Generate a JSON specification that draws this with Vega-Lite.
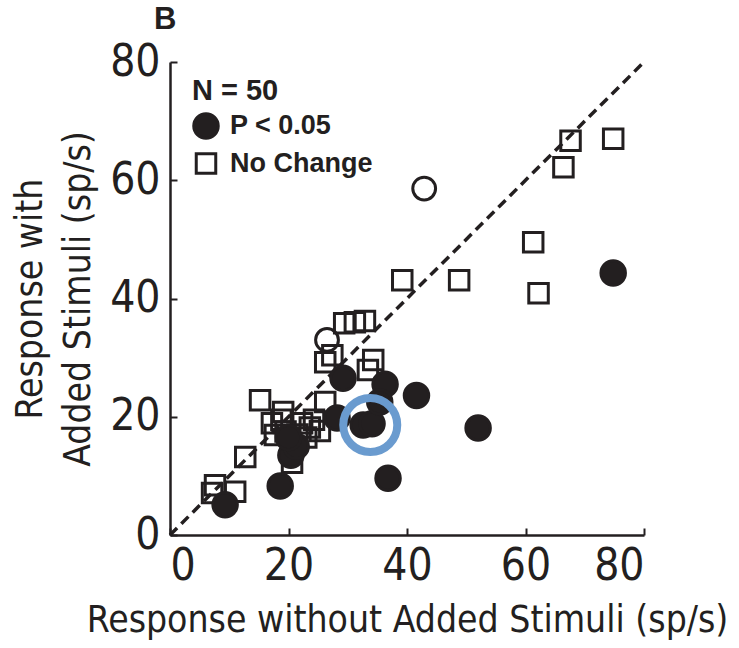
{
  "$schema": "https://vega.github.io/schema/vega-lite/v6.json",
  "width": 474,
  "height": 473,
  "autosize": "none",
  "padding": {"left": 170, "top": 62, "right": 95, "bottom": 113},
  "background": "white",
  "config": {
    "view": {"stroke": null},
    "font": "Liberation Sans",
    "axis": {
      "grid": false,
      "domainColor": "#231f20",
      "domainWidth": 2.5,
      "tickColor": "#231f20",
      "tickWidth": 2,
      "tickSize": -7,
      "labelFont": "DejaVu Sans Condensed, Liberation Sans",
      "labelFontSize": 44,
      "labelColor": "#231f20",
      "titleFont": "DejaVu Sans Condensed, Liberation Sans",
      "titleFontSize": 37,
      "titleFontWeight": "normal",
      "titleColor": "#231f20"
    }
  },
  "title": {
    "text": "B",
    "anchor": "start",
    "frame": "group",
    "font": "Liberation Sans",
    "fontSize": 31,
    "fontWeight": "bold",
    "color": "#231f20",
    "dx": -16,
    "offset": 4
  },
  "datasets": {
    "cells": [
      {"x": 67.6, "y": 66.7, "type": "No Change"},
      {"x": 74.8, "y": 67.0, "type": "No Change"},
      {"x": 66.4, "y": 62.2, "type": "No Change"},
      {"x": 61.3, "y": 49.5, "type": "No Change"},
      {"x": 62.2, "y": 40.9, "type": "No Change"},
      {"x": 39.2, "y": 43.1, "type": "No Change"},
      {"x": 48.8, "y": 43.1, "type": "No Change"},
      {"x": 29.4, "y": 35.8, "type": "No Change"},
      {"x": 31.2, "y": 36.0, "type": "No Change"},
      {"x": 32.9, "y": 36.2, "type": "No Change"},
      {"x": 27.4, "y": 30.4, "type": "No Change"},
      {"x": 26.2, "y": 29.2, "type": "No Change"},
      {"x": 34.3, "y": 29.6, "type": "No Change"},
      {"x": 33.4, "y": 27.9, "type": "No Change"},
      {"x": 26.2, "y": 22.5, "type": "No Change"},
      {"x": 15.2, "y": 22.8, "type": "No Change"},
      {"x": 19.1, "y": 20.8, "type": "No Change"},
      {"x": 17.2, "y": 18.9, "type": "No Change"},
      {"x": 17.7, "y": 16.9, "type": "No Change"},
      {"x": 22.3, "y": 18.9, "type": "No Change"},
      {"x": 23.6, "y": 18.2, "type": "No Change"},
      {"x": 25.3, "y": 17.6, "type": "No Change"},
      {"x": 20.8, "y": 15.0, "type": "No Change"},
      {"x": 20.6, "y": 12.2, "type": "No Change"},
      {"x": 12.7, "y": 13.2, "type": "No Change"},
      {"x": 7.6, "y": 8.4, "type": "No Change"},
      {"x": 11.0, "y": 7.3, "type": "No Change"},
      {"x": 7.1, "y": 7.1, "type": "No Change"},
      {"x": 24.3, "y": 19.5, "type": "No Change"},
      {"x": 19.5, "y": 17.5, "type": "No Change"},
      {"x": 21.5, "y": 17.0, "type": "No Change"},
      {"x": 23.0, "y": 16.5, "type": "No Change"},
      {"x": 18.8, "y": 19.5, "type": "No Change"},
      {"x": 9.3, "y": 5.1, "type": "P < 0.05"},
      {"x": 18.6, "y": 8.3, "type": "P < 0.05"},
      {"x": 36.8, "y": 9.6, "type": "P < 0.05"},
      {"x": 52.0, "y": 18.1, "type": "P < 0.05"},
      {"x": 74.8, "y": 44.3, "type": "P < 0.05"},
      {"x": 41.6, "y": 23.6, "type": "P < 0.05"},
      {"x": 36.3, "y": 25.5, "type": "P < 0.05"},
      {"x": 29.2, "y": 26.5, "type": "P < 0.05"},
      {"x": 28.2, "y": 19.8, "type": "P < 0.05"},
      {"x": 32.6, "y": 18.6, "type": "P < 0.05"},
      {"x": 34.1, "y": 18.8, "type": "P < 0.05"},
      {"x": 20.4, "y": 13.5, "type": "P < 0.05"},
      {"x": 21.3, "y": 15.0, "type": "P < 0.05"},
      {"x": 35.4, "y": 22.5, "type": "P < 0.05"},
      {"x": 20.0, "y": 16.5, "type": "P < 0.05"},
      {"x": 42.9, "y": 58.6, "type": "Other"},
      {"x": 26.5, "y": 33.0, "type": "Other"}
    ],
    "highlight": [{"x": 33.8, "y": 18.6}],
    "diag": [{"x": 0, "y": 0, "x2": 80, "y2": 80}]
  },
  "layer": [
    {
      "data": {"name": "diag"},
      "mark": {"type": "rule", "color": "#231f20", "strokeWidth": 3.5, "strokeDash": [10, 6]},
      "encoding": {
        "x": {"field": "x", "type": "quantitative", "scale": {"domain": [0, 80]},
          "axis": {"values": [0, 20, 40, 60, 80], "title": "Response without Added Stimuli (sp/s)", "labelPadding": 16, "titlePadding": 14}},
        "y": {"field": "y", "type": "quantitative", "scale": {"domain": [0, 80]},
          "axis": {"values": [0, 20, 40, 60, 80], "title": ["Response with", "Added Stimuli (sp/s)"], "labelPadding": 17, "titlePadding": 12, "titleLineHeight": 48}},
        "x2": {"field": "x2"},
        "y2": {"field": "y2"}
      }
    },
    {
      "data": {"name": "cells"},
      "transform": [{"filter": "datum.type !== 'Other'"}],
      "mark": {"type": "point", "stroke": "#231f20", "strokeWidth": 3, "opacity": 1},
      "encoding": {
        "x": {"field": "x", "type": "quantitative"},
        "y": {"field": "y", "type": "quantitative"},
        "shape": {"field": "type", "type": "nominal", "title": "N = 50",
          "scale": {"domain": ["P < 0.05", "No Change"], "range": ["circle", "square"]},
          "legend": {
            "orient": "none", "legendX": 22, "legendY": 15,
            "titleFont": "Liberation Sans", "titleFontSize": 29, "titleFontWeight": "bold", "titleColor": "#231f20", "titlePadding": 6,
            "labelFont": "Liberation Sans", "labelFontSize": 27, "labelFontWeight": "bold", "labelColor": "#231f20", "labelOffset": 10,
            "symbolStrokeColor": "#231f20", "symbolStrokeWidth": 3, "rowPadding": 2
          }},
        "fill": {"field": "type", "type": "nominal", "title": "N = 50",
          "scale": {"domain": ["P < 0.05", "No Change"], "range": ["#231f20", "transparent"]}},
        "size": {"field": "type", "type": "nominal", "title": "N = 50",
          "scale": {"domain": ["P < 0.05", "No Change"], "range": [600, 380]}}
      }
    },
    {
      "data": {"name": "cells"},
      "transform": [{"filter": "datum.type === 'Other'"}],
      "mark": {"type": "point", "shape": "circle", "filled": false, "stroke": "#231f20", "strokeWidth": 3, "size": 520, "opacity": 1},
      "encoding": {
        "x": {"field": "x", "type": "quantitative"},
        "y": {"field": "y", "type": "quantitative"}
      }
    },
    {
      "data": {"name": "highlight"},
      "mark": {"type": "point", "shape": "circle", "filled": false, "stroke": "#6a9bcf", "strokeWidth": 8, "size": 2916, "opacity": 1},
      "encoding": {
        "x": {"field": "x", "type": "quantitative"},
        "y": {"field": "y", "type": "quantitative"}
      }
    }
  ]
}
